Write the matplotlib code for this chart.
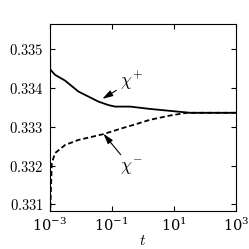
import matplotlib
matplotlib.use("Agg")
import matplotlib.pyplot as plt
from matplotlib.ticker import FixedLocator, FuncFormatter, NullLocator

plt.rcParams['mathtext.fontset'] = 'cm'
plt.rcParams['font.family'] = 'serif'
plt.rcParams['font.serif'] = ['DejaVu Serif']

# chi+ (solid) and chi- (dashed)
t_plus = [1.02e-3, 1.05e-3, 1.50e-3, 3.16e-3, 8.45e-3, 1.77e-2, 3.72e-2, 7.80e-2,
          0.128, 0.389, 1.71, 7.53, 33.2, 1000]
chi_plus = [0.3360, 0.33448, 0.33434, 0.33419, 0.33391, 0.33378, 0.33365, 0.33356,
            0.33352, 0.33352, 0.33346, 0.33341, 0.33336, 0.33336]

t_minus = [1.02e-3, 1.18e-3, 1.50e-3, 3.16e-3, 8.45e-3, 2.28e-2, 5.38e-2, 0.210,
           0.564, 1.71, 7.53, 25.9, 1000]
chi_minus = [0.3305, 0.33206, 0.33232, 0.33253, 0.33266, 0.33274, 0.33281, 0.33296,
             0.33306, 0.33318, 0.33329, 0.33336, 0.33336]

xticks = [1e-3, 1e-1, 1e1, 1e3]
yticks = [0.331, 0.332, 0.333, 0.334, 0.335]

fig = plt.figure(figsize=(2.49, 2.49), dpi=100)
ax = fig.add_axes([0.199, 0.153, 0.749, 0.749])

ax.plot(t_plus, chi_plus, color='black', lw=1.3)
ax.plot(t_minus, chi_minus, color='black', lw=1.3, dashes=(2.8, 1.6))

ax.set_xscale('log')
ax.set_xlim(1e-3, 1e3)
ax.set_ylim(0.33083, 0.33564)
ax.xaxis.set_major_locator(FixedLocator(xticks))
ax.xaxis.set_minor_locator(NullLocator())
ax.yaxis.set_major_locator(FixedLocator(yticks))
ax.yaxis.set_major_formatter(FuncFormatter(lambda v, p: '$%.3f$' % v))
ax.tick_params(direction='in', top=True, right=True, length=3.5, width=0.8,
               labelsize=10.5, pad=4)
ax.set_xlabel('$t$', fontsize=11, labelpad=0)

ax.annotate(r'$\chi^{+}$', xy=(0.05, 0.33372), xytext=(0.19, 0.33418),
            fontsize=12.5, ha='left', va='center',
            arrowprops=dict(arrowstyle='-|>,head_length=0.5,head_width=0.15',
                            color='black', lw=0.8, shrinkA=1, shrinkB=0))
ax.annotate(r'$\chi^{-}$', xy=(0.054, 0.33282), xytext=(0.19, 0.33194),
            fontsize=12.5, ha='left', va='center',
            arrowprops=dict(arrowstyle='-|>,head_length=0.5,head_width=0.15',
                            color='black', lw=0.8, shrinkA=1, shrinkB=0))

fig.savefig('out.png', dpi=100)
